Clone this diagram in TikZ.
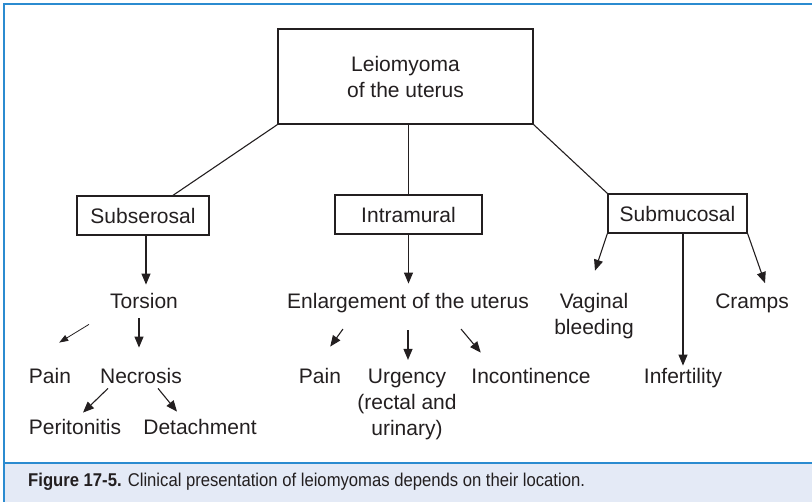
\documentclass[tikz,border=0pt]{standalone}
\usepackage{fontspec}
\setmainfont{Liberation Sans}
\newfontfamily\capfont[FakeStretch=0.9]{Liberation Sans}
\usetikzlibrary{arrows.meta,calc}
\definecolor{frameblue}{HTML}{2B8BD0}
\definecolor{capfill}{HTML}{E4EAF6}
\definecolor{ink}{HTML}{231F20}
\tikzset{
    >={Triangle[length=11pt,width=9pt]},
    sitebox/.style={rectangle, draw=ink, line width=1.3pt, minimum height=39pt, inner sep=0pt, align=center, text=ink},
    leaf/.style={inner sep=2pt, anchor=base, text=ink},
    stack/.style={inner sep=2pt, align=center, text=ink},
    link/.style={draw=ink, line width=1.1pt},
    pointer/.style={->, draw=ink, line width=1.1pt},
    thinpointer/.style={-{Triangle[length=9pt,width=6.5pt]}, draw=ink, line width=0.8pt}
}

\begin{document}
\begin{tikzpicture}[x=1pt, y=-1pt, font=\fontsize{21}{26}\selectfont]
    \useasboundingbox (0,0) rectangle (812,502);
    \fill[capfill] (5,464) rectangle (812,502);
    \draw[frameblue, line width=2pt] (4,502) -- (4,4) -- (812,4);
    \draw[frameblue, line width=2pt] (5,463) -- (812,463);

    \node[sitebox, minimum width=255pt, minimum height=95pt] (root) at (405.5,76.5) {Leiomyoma\\of the uterus};
    \node[sitebox, minimum width=132pt] (subs) at (143,215.5) {Subserosal};
    \node[sitebox, minimum width=147pt] (intra) at (408.5,214.5) {Intramural};
    \node[sitebox, minimum width=139pt] (submuc) at (677.5,213.5) {Submucosal};

    \node[leaf] (torsion) at (144,308.5) {Torsion};
    \node[leaf] (enlarge) at (408,308.5) {Enlargement of the uterus};
    \node[stack] (vaginal) at (594,316) {Vaginal\\bleeding};
    \node[leaf] (cramps) at (752,308.5) {Cramps};
    \node[leaf] (painA) at (50,383.5) {Pain};
    \node[leaf] (necrosis) at (141,383.5) {Necrosis};
    \node[leaf] (painB) at (320,383.5) {Pain};
    \node[stack] (urgency) at (407,404) {Urgency\\(rectal and\\urinary)};
    \node[leaf] (incont) at (531,383.5) {Incontinence};
    \node[leaf] (infert) at (683,383.5) {Infertility};
    \node[leaf] (perit) at (75,434.5) {Peritonitis};
    \node[leaf] (detach) at (200,434.5) {Detachment};

    \draw[link] (root.south west) -- ($(subs.north)+(30,0)$);
    \draw[link] (root.south -| intra.north) -- (intra.north);
    \draw[link] (root.south east) -- (submuc.north west);

    \draw[pointer] ($(subs.south)+(3,0)$) -- ($(torsion.north)+(2,-6.5)$);
    \draw[thinpointer] ($(torsion.south west)+(-19,13.5)$) -- ($(painA.north east)+(-14,-23.5)$);
    \draw[pointer] ($(torsion.south)+(-5,7.5)$) -- ($(necrosis.north)+(-2,-18.5)$);
    \draw[pointer] ($(necrosis.south)+(-33,2.5)$) -- ($(perit.north)+(8,-4.5)$);
    \draw[pointer] ($(necrosis.south)+(17,2.5)$) -- ($(detach.north)+(-23,-5.5)$);

    \draw[pointer] (intra.south) -- ($(enlarge.north)+(0.5,-7.5)$);
    \draw[pointer] ($(enlarge.south west)+(58,14)$) -- ($(painB.north east)+(-13,-19.5)$);
    \draw[pointer] ($(enlarge.south)+(0,15)$) -- ($(urgency.north)+(1,-6.5)$);
    \draw[pointer] ($(enlarge.south east)+(-70,14)$) -- ($(incont.north west)+(11.5,-13.5)$);

    \draw[pointer] (submuc.south west) -- ($(vaginal.north)+(1,-20.3)$);
    \draw[pointer] ($(submuc.south)+(5.5,0)$) -- ($(infert.north)+(0,-0.5)$);
    \draw[pointer] (submuc.south east) -- ($(cramps.north)+(13,-8.5)$);

    \node[anchor=base west, inner sep=0pt, text=ink, font=\capfont\fontsize{18.5}{22}\selectfont] (caption) at (28,487)
        {\textbf{Figure 17-5.} Clinical presentation of leiomyomas depends on their location.};
\end{tikzpicture}
\end{document}
